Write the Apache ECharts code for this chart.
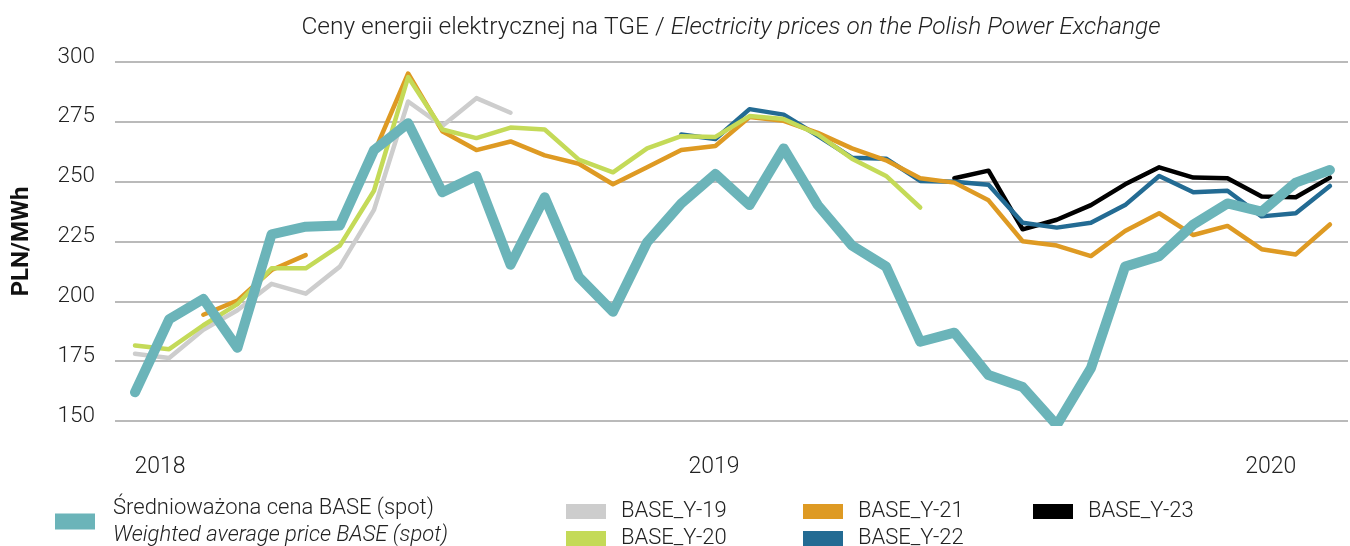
<!DOCTYPE html>
<html>
<head>
<meta charset="utf-8">
<script src="https://cdn.jsdelivr.net/npm/echarts@6/dist/echarts.min.js"></script>
<style>
html,body{margin:0;padding:0;background:#fff;}
#chart{width:1350px;height:546px;}
</style>
</head>
<body>
<div id="chart"></div>
<script>
// ---- data ----
const spotName = 'Średnioważona cena BASE (spot)';
const spotNameEn = 'Weighted average price BASE (spot)';
const seriesNames = ['BASE_Y-19', 'BASE_Y-20', 'BASE_Y-21', 'BASE_Y-22', 'BASE_Y-23'];
const yearLabels = ['2018', '2019', '2020'];
const yearTickPos = [0.73, 16.96, 33.27];
const yTicks = [150, 175, 200, 225, 250, 275, 300];

const spot = [162, 192.5, 201, 180.6, 228, 231.2, 231.7, 263.2, 274.4, 245.6,
  252.4, 215.3, 243.5, 210.2, 195.6, 224.7, 240.9, 253.2, 240.2, 263.9,
  240.2, 223.3, 214.5, 183.1, 186.9, 169.2, 164.2, 148.3, 172.1, 214.5,
  218.9, 232.1, 240.9, 237.5, 249.6, 254.9];
const y19 = [178.1, 176.3, 188.1, 196.3, 207.3, 203.2, 214.5, 238.2, 283.5, 273.3,
  284.9, 278.8, null, null, null, null, null, null, null, null,
  null, null, null, null, null, null, null, null, null, null,
  null, null, null, null, null, null];
const y20 = [181.5, 180, 190, 198.8, 213.8, 213.8, 223.3, 246.2, 293.7, 271.8,
  268.2, 272.6, 271.8, 259.2, 253.9, 263.9, 269, 268.7, 277.4, 276.2,
  269.7, 259.6, 252.4, 239.2, null, null, null, null, null, null,
  null, null, null, null, null, null];
const y21 = [null, null, 194.4, 200.3, 213.1, 219.3, null, 262, 295.2, 271.1,
  263.2, 266.8, 261, 257.5, 248.9, 256, 263.2, 264.9, 277, 275.4,
  270.4, 263.9, 258.9, 251.4, 249.6, 242.2, 225.1, 223.3, 218.9, 229.4,
  236.8, 227.7, 231.5, 221.8, 219.6, 232.1];
const y22 = [null, null, null, null, null, null, null, null, null, null,
  null, null, null, null, null, null, 269.7, 267.8, 280.3, 278,
  269.2, 260, 259.6, 250.3, 250, 248.7, 232.8, 230.8, 232.8, 240.2,
  252.4, 245.6, 246.2, 235.5, 236.8, 248.2];
const y23 = [null, null, null, null, null, null, null, null, null, null,
  null, null, null, null, null, null, null, null, null, null,
  null, null, null, null, 251.4, 254.6, 230.1, 234.1, 240.2, 248.9,
  256, 251.7, 251.4, 243.8, 243.5, 251.7];

// ---- styles ----
const colors = {
  spot: '#6bb4b9',
  'BASE_Y-19': '#cdcdcd',
  'BASE_Y-20': '#c4da58',
  'BASE_Y-21': '#de9a23',
  'BASE_Y-22': '#236b93',
  'BASE_Y-23': '#000000'
};
const FONT = 'Roboto';

function pts(arr) {
  return arr.map((v, i) => [i, v == null ? '-' : v]);
}
function thin(name, arr, z) {
  return {
    name: name, type: 'line', data: pts(arr), z: z,
    color: colors[name], showSymbol: false, symbol: 'none',
    connectNulls: false, animation: false,
    lineStyle: {width: 4.5, color: colors[name], cap: 'round', join: 'round'}
  };
}

const chart = echarts.init(document.getElementById('chart'), null, {renderer: 'canvas'});
const legendText = {fontFamily: FONT, fontWeight: 300, fontSize: 22, color: '#222'};
function colLegend(names, left) {
  return {
    data: names, orient: 'vertical', left: left, top: 498, height: 90, padding: 0,
    icon: 'rect', itemWidth: 40, itemHeight: 15, itemGap: 0,
    textStyle: Object.assign({lineHeight: 27, padding: [0, 0, 0, 10]}, legendText)
  };
}
const option = {
  backgroundColor: '#fff',
  animation: false,
  title: {
    left: 726, top: 10, textAlign: 'center',
    text: '{a|Ceny energii elektrycznej na TGE / }{b|Electricity prices on the Polish Power Exchange}',
    textStyle: {
      rich: {
        a: {fontFamily: FONT, fontWeight: 300, fontSize: 24.5, color: '#222'},
        b: {fontFamily: FONT, fontWeight: 300, fontStyle: 'italic', fontSize: 24.5, color: '#222'}
      }
    }
  },
  grid: {left: 115, right: 2, top: 62, bottom: 125},
  xAxis: {
    type: 'value', min: -0.586, max: 35.53,
    axisLine: {show: false}, axisTick: {show: false}, splitLine: {show: false},
    axisLabel: {
      customValues: yearTickPos,
      formatter: function (v) {
        let best = 0;
        yearTickPos.forEach((p, i) => { if (Math.abs(p - v) < Math.abs(yearTickPos[best] - v)) best = i; });
        return yearLabels[best];
      },
      margin: 35, fontFamily: FONT, fontWeight: 300, fontSize: 23, color: '#222'
    }
  },
  yAxis: {
    type: 'value', min: yTicks[0], max: yTicks[yTicks.length - 1], interval: 25,
    name: 'PLN/MWh', nameLocation: 'middle', nameGap: 81, nameRotate: 90,
    nameTextStyle: {fontFamily: FONT, fontWeight: 'bold', fontSize: 24, color: '#111'},
    axisLine: {show: false}, axisTick: {show: false},
    splitLine: {lineStyle: {color: '#a3a3a3', width: 1.5}},
    axisLabel: {margin: 20, fontFamily: FONT, fontWeight: 300, fontSize: 22.5, color: '#222',
      verticalAlign: 'bottom', lineHeight: 10}
  },
  legend: [
    {
      data: [spotName], left: 55, top: 497, padding: 0, icon: 'rect', itemWidth: 40, itemHeight: 16,
      formatter: function (n) { return '{a|' + n + '}\n{b|' + spotNameEn + '}'; },
      textStyle: {
        padding: [0, 0, 0, 13],
        rich: {
          a: Object.assign({lineHeight: 27}, legendText),
          b: Object.assign({lineHeight: 27, fontStyle: 'italic'}, legendText)
        }
      }
    },
    colLegend(['BASE_Y-19', 'BASE_Y-20'], 566),
    colLegend(['BASE_Y-21', 'BASE_Y-22'], 803),
    colLegend(['BASE_Y-23'], 1033)
  ],
  series: [
    thin('BASE_Y-23', y23, 2),
    thin('BASE_Y-22', y22, 3),
    thin('BASE_Y-21', y21, 4),
    thin('BASE_Y-19', y19, 5),
    thin('BASE_Y-20', y20, 6),
    {
      name: spotName, type: 'line', data: pts(spot), z: 10,
      color: colors.spot, showSymbol: false, symbol: 'none', animation: false,
      lineStyle: {width: 10, color: colors.spot, cap: 'round', join: 'round'}
    }
  ]
};
chart.setOption(option);
</script>
</body>
</html>
